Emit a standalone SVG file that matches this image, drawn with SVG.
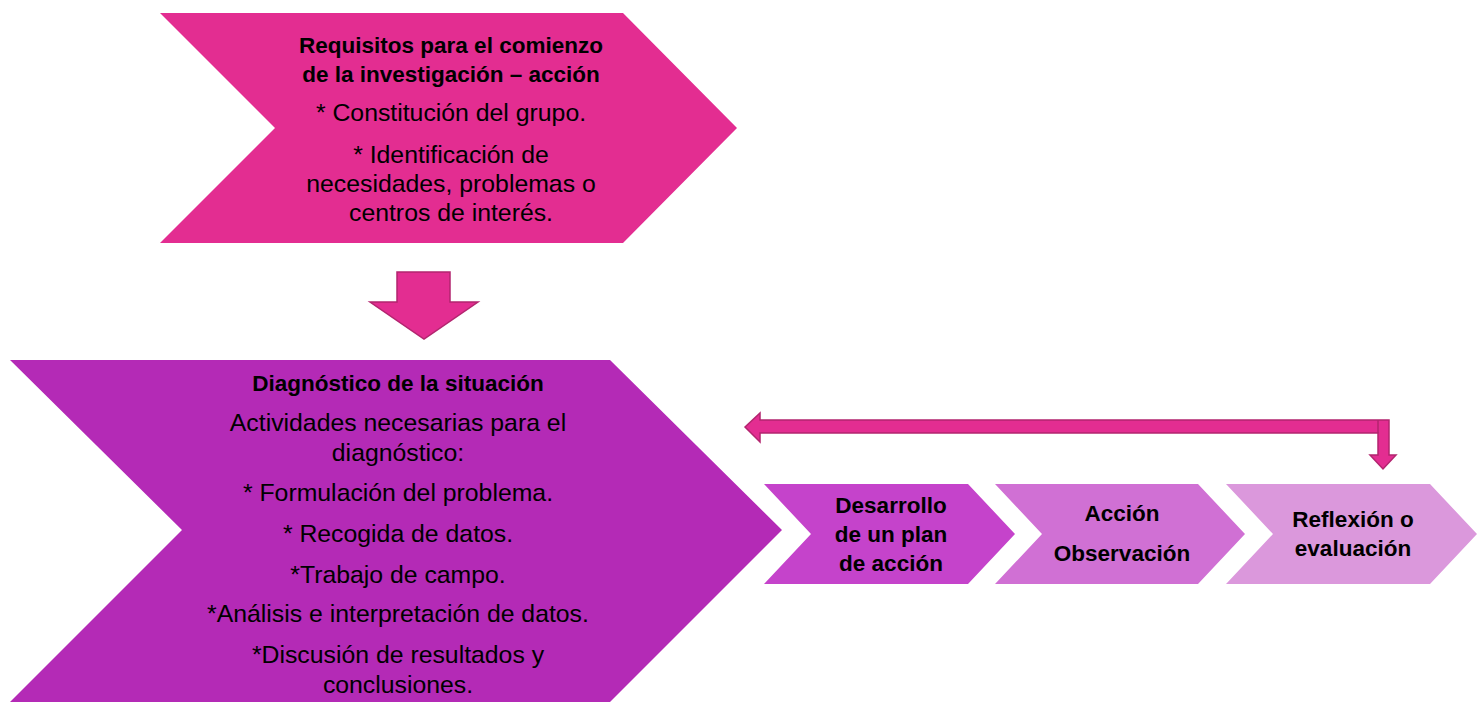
<svg xmlns="http://www.w3.org/2000/svg" width="1483" height="702" viewBox="0 0 1483 702">
<style>
text{font-family:"Liberation Sans",Arial,sans-serif;fill:#000;text-anchor:middle}
.t{font-size:24.8px}
.b{font-size:22.5px;font-weight:bold}
.conn{fill:#E32D91;stroke:#B3256F;stroke-width:1.5}
</style>
<rect width="1483" height="702" fill="#fff"/>
<g id="requisitos">
<polygon points="160,13 623,13 737,128 623,243 160,243 275,128" fill="#E32D91"/>
<text class="b" x="451" y="53">Requisitos para el comienzo</text>
<text class="b" x="451" y="82">de la investigación – acción</text>
<text class="t" x="451" y="121">* Constitución del grupo.</text>
<text class="t" x="451" y="163">* Identificación de</text>
<text class="t" x="451" y="192">necesidades, problemas o</text>
<text class="t" x="451" y="221">centros de interés.</text>
</g>
<g id="diagnostico">
<polygon points="10,360 610,360 782,530 610,702 10,702 182,530" fill="#B42AB6"/>
<text class="b" x="398" y="391">Diagnóstico de la situación</text>
<text class="t" x="398" y="431">Actividades necesarias para el</text>
<text class="t" x="398" y="461">diagnóstico:</text>
<text class="t" x="398" y="501">* Formulación del problema.</text>
<text class="t" x="398" y="542">* Recogida de datos.</text>
<text class="t" x="398" y="583">*Trabajo de campo.</text>
<text class="t" x="398" y="622">*Análisis e interpretación de datos.</text>
<text class="t" x="398" y="663">*Discusión de resultados y</text>
<text class="t" x="398" y="693">conclusiones.</text>
</g>
<g id="plan">
<polygon points="764,484 968,484 1015,534 968,584 764,584 811,534" fill="#C543CB"/>
<text class="b" x="891" y="513">Desarrollo</text>
<text class="b" x="891" y="542">de un plan</text>
<text class="b" x="891" y="571">de acción</text>
</g>
<g id="accion">
<polygon points="995,484 1198,484 1245,534 1198,584 995,584 1042,534" fill="#D070D4"/>
<text class="b" x="1122" y="521">Acción</text>
<text class="b" x="1122" y="561">Observación</text>
</g>
<g id="reflexion">
<polygon points="1226,484 1430,484 1477,534 1430,584 1226,584 1273,534" fill="#DB98DC"/>
<text class="b" x="1353" y="527">Reflexión o</text>
<text class="b" x="1353" y="556">evaluación</text>
</g>
<g id="connectors">
<polygon class="conn" points="397,272 450,272 450,302 478,302 424,339 370,302 397,302"/>
<polygon class="conn" points="745,427 760,413 760,420 1389,420 1389,455 1396,455 1383,469 1370,455 1378,455 1378,433 760,433 760,442"/>
<line x1="1378" y1="433" x2="1378" y2="420" stroke="#B3256F" stroke-width="1.5"/>
</g>
</svg>
